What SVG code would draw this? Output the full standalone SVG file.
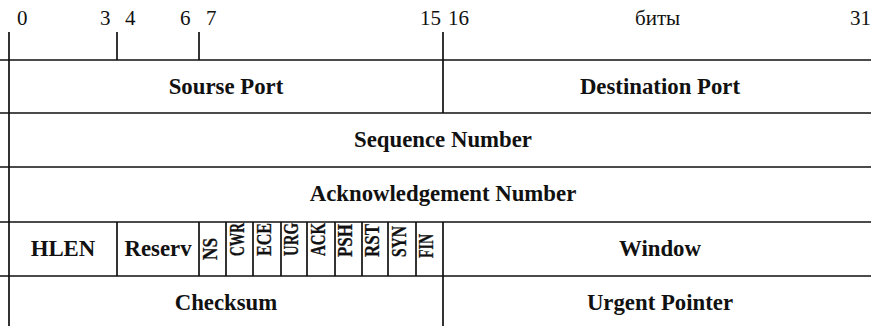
<svg xmlns="http://www.w3.org/2000/svg" width="871" height="326" viewBox="0 0 871 326">
<style>
.ln{stroke:#111;stroke-width:1.7;fill:none}
.num{font-family:"Liberation Serif","Times New Roman",serif;font-size:21px;fill:#111}
.lb{font-family:"Liberation Serif","Times New Roman",serif;font-size:22.8px;font-weight:bold;fill:#111;text-anchor:middle}
.fl{font-family:"Liberation Serif","Times New Roman",serif;font-size:20.5px;font-weight:bold;fill:#111;stroke:#111;stroke-width:0.3}
</style>
<rect width="871" height="326" fill="#fff"/>
<g id="scale">
<text class="num" x="17" y="25">0</text>
<text class="num" x="100" y="25">3</text>
<text class="num" x="125" y="25">4</text>
<text class="num" x="180" y="25">6</text>
<text class="num" x="206" y="25">7</text>
<text class="num" x="420" y="25">15</text>
<text class="num" x="448" y="25">16</text>
<text class="num" x="635" y="25">биты</text>
<text class="num" x="850" y="25">31</text>
<path class="ln" d="M117,32V60M199,32V60M443,32V60"/>
</g>
<g id="grid">
<path class="ln" d="M9,32V326M0,60H871M0,113H871M0,167H871M0,222H871M0,276H871M443,60V113M443,222V326"/>
<path class="ln" d="M117,222V276M199,222V276M226,222V276M253,222V276M281,222V276M307,222V276M335,222V276M362,222V276M388,222V276M416,222V276"/>
</g>
<g id="row1">
<text class="lb" x="226" y="94">Sourse Port</text>
<text class="lb" x="660" y="94">Destination Port</text>
</g>
<g id="row2"><text class="lb" x="443" y="147">Sequence Number</text></g>
<g id="row3"><text class="lb" x="443" y="201">Acknowledgement Number</text></g>
<g id="row4">
<text class="lb" x="63" y="256">HLEN</text>
<text class="lb" x="158" y="256">Reserv</text>
<text class="fl" transform="translate(217,260) rotate(-90)" textLength="22" lengthAdjust="spacingAndGlyphs">NS</text>
<text class="fl" transform="translate(244,256) rotate(-90)" textLength="33" lengthAdjust="spacingAndGlyphs">CWR</text>
<text class="fl" transform="translate(271,256) rotate(-90)" textLength="33" lengthAdjust="spacingAndGlyphs">ECE</text>
<text class="fl" transform="translate(298,256) rotate(-90)" textLength="33" lengthAdjust="spacingAndGlyphs">URG</text>
<text class="fl" transform="translate(325,256) rotate(-90)" textLength="33" lengthAdjust="spacingAndGlyphs">ACK</text>
<text class="fl" transform="translate(352,257) rotate(-90)" textLength="33" lengthAdjust="spacingAndGlyphs">PSH</text>
<text class="fl" transform="translate(379,257) rotate(-90)" textLength="33" lengthAdjust="spacingAndGlyphs">RST</text>
<text class="fl" transform="translate(406,257) rotate(-90)" textLength="31" lengthAdjust="spacingAndGlyphs">SYN</text>
<text class="fl" transform="translate(433,258) rotate(-90)" textLength="24" lengthAdjust="spacingAndGlyphs">FIN</text>
<text class="lb" x="660" y="256">Window</text>
</g>
<g id="row5">
<text class="lb" x="226" y="310">Checksum</text>
<text class="lb" x="660" y="310">Urgent Pointer</text>
</g>
</svg>
